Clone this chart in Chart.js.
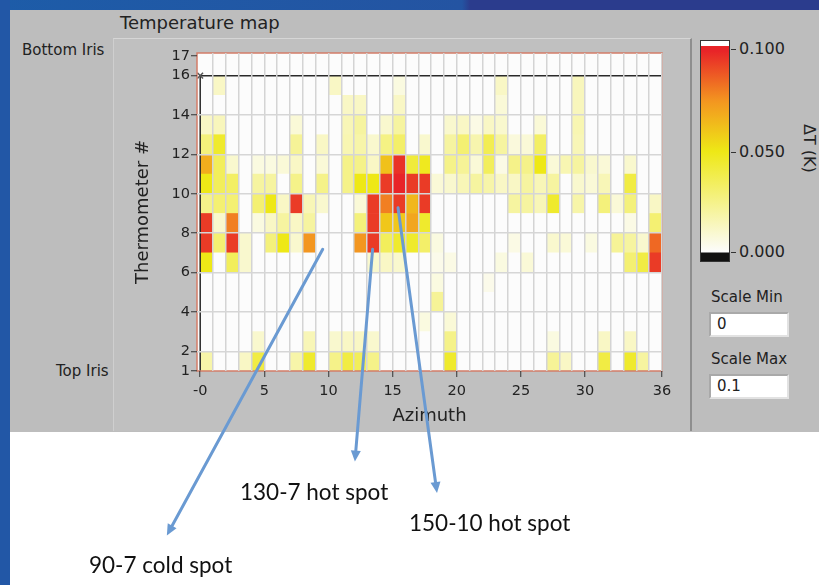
<!DOCTYPE html>
<html>
<head>
<meta charset="utf-8">
<script src="https://cdn.jsdelivr.net/npm/chart.js@4.4.1/dist/chart.umd.min.js"></script>
<style>
  html, body { margin: 0; padding: 0; }
  body { width: 819px; height: 585px; position: relative; overflow: hidden; background: #fff;
         font-family: "DejaVu Sans", sans-serif; color: #222; }
  .abs { position: absolute; }
  #blueTop { left: 0; top: 0; width: 819px; height: 10px;
             background: linear-gradient(90deg, #1d5ca8 0, #2454a2 462px, #2b3c8d 470px, #2b3c8d 100%); }
  #blueLeft { left: 0; top: 0; width: 10px; height: 585px; background: #2257a6; }
  #panel { left: 10px; top: 10px; width: 809px; height: 422px; background: #bdbdbd; }
  #frame { left: 113px; top: 38px; width: 576px; height: 392px; background: #c0c0c0;
           border-top: 1px solid #d6d6d6; border-left: 1px solid #cfcfcf; border-right: 2px solid #8e8e8e; }
  #title { left: 120px; top: 12px; font-size: 18px; }
  .side { font-size: 15px; }
  #cbar { left: 700px; top: 40px; width: 28px; height: 220px; border: 1px solid #333; }
  .cbTick { font-size: 16px; }
  .cbTick::before { content: ""; display: inline-block; width: 5px; height: 1px; background: #333;
                    vertical-align: middle; margin-right: 3px; }
  #cbTitle { left: 819px; top: 124px; font-size: 16px; transform: rotate(90deg); transform-origin: left top; white-space: nowrap; }
  .lbl { font-size: 15px; }
  .box { width: 70px; height: 21px; background: #fff; border: 2px solid #a9a9a9; border-right-color: #e2e2e2;
         border-bottom-color: #e2e2e2; font-size: 15px; line-height: 21px; padding-left: 6px; box-sizing: content-box; }
  .note { font-family: "Lato", sans-serif; font-size: 22.5px; line-height: 27px; color: #111; white-space: nowrap; }
</style>
</head>
<body>
<div id="blueTop" class="abs"></div>
<div id="blueLeft" class="abs"></div>
<div id="panel" class="abs"></div>
<div id="frame" class="abs"></div>
<div id="title" class="abs">Temperature map</div>
<div class="abs side" style="left:22px; top:41px;">Bottom Iris</div>
<div class="abs side" style="left:56px; top:362px;">Top Iris</div>

<div id="cbar" class="abs"></div>
<div class="abs cbTick" style="left:731px; top:39px;">0.100</div>
<div class="abs cbTick" style="left:731px; top:142px;">0.050</div>
<div class="abs cbTick" style="left:731px; top:242px;">0.000</div>
<div id="cbTitle" class="abs">ΔT (K)</div>

<div class="abs lbl" style="left:711px; top:288px;">Scale Min</div>
<div class="abs box" style="left:709px; top:312px;">0</div>
<div class="abs lbl" style="left:711px; top:350px;">Scale Max</div>
<div class="abs box" style="left:709px; top:374px;">0.1</div>

<div class="abs" style="left:0; top:0; width:819px; height:585px;">
  <canvas id="map" width="819" height="585"></canvas>
</div>

<div class="abs note" style="left:240px; top:478px;">130-7 hot spot</div>
<div class="abs note" style="left:409px; top:509px;">150-10 hot spot</div>
<div class="abs note" style="left:89px; top:551px;">90-7 cold spot</div>

<script>
// azimuth index of each column, thermometer number of each row
const azimuth = [0, 1, 2, 3, 4, 5, 6, 7, 8, 9, 10, 11, 12, 13, 14, 15, 16, 17,
  18, 19, 20, 21, 22, 23, 24, 25, 26, 27, 28, 29, 30, 31, 32, 33, 34, 35];
const thermometers = [1, 2, 3, 4, 5, 6, 7, 8, 9, 10, 11, 12, 13, 14, 15, 16];

// ΔT in mK, one list per thermometer, 36 azimuth values each
const row01 = [18,0,0,12,40,0,0,18,45,0,25,40,35,25,0,0,0,0,0,45,0,0,0,0,0,0,0,22,12,0,0,40,0,45,20,0];
const row02 = [0,0,0,0,10,0,0,0,15,0,10,12,12,10,0,0,0,0,0,25,0,0,0,0,0,0,0,6,0,0,0,12,0,12,0,0];
const row03 = [0,0,0,0,0,0,0,0,0,0,0,0,0,0,0,0,0,6,0,8,0,0,0,0,0,0,0,0,0,0,0,0,0,0,0,0];
const row04 = [0,0,0,0,0,0,0,0,0,0,0,0,0,0,0,0,0,0,22,0,0,0,0,0,0,0,0,0,0,0,0,0,0,0,0,0];
const row05 = [0,0,0,0,0,0,0,0,0,0,0,0,0,0,0,0,0,0,6,0,0,0,4,0,0,0,0,0,0,0,0,0,0,0,0,0];
const row06 = [50,0,35,10,0,0,0,0,0,0,0,0,0,10,12,10,0,0,4,5,0,0,0,6,0,8,0,0,0,0,0,0,0,30,40,95];
const row07 = [95,30,95,10,0,28,50,10,75,0,0,0,75,95,35,45,45,32,6,0,0,0,0,0,5,0,0,10,8,0,6,0,22,20,10,85];
const row08 = [95,10,80,0,6,12,20,12,20,0,0,0,28,95,60,60,70,45,0,0,0,0,0,0,0,0,0,0,0,0,0,0,0,5,0,30];
const row09 = [25,30,30,0,30,50,12,95,15,10,0,0,8,95,80,95,65,95,0,0,0,0,0,0,20,20,15,45,0,18,0,28,8,28,0,12];
const row10 = [50,35,33,0,20,20,0,25,0,25,0,25,50,50,95,100,95,95,8,10,15,20,18,12,12,20,15,20,0,10,8,15,0,40,0,0];
const row11 = [68,35,10,0,6,6,8,12,0,8,0,25,25,12,62,97,42,48,0,25,22,8,35,5,25,25,50,8,16,20,10,8,0,10,0,0];
const row12 = [28,45,0,0,0,0,0,22,0,12,0,16,18,10,26,32,0,10,0,20,30,17,37,20,7,8,33,0,0,15,0,0,0,0,0,0];
const row13 = [12,14,0,0,0,0,0,8,0,0,0,15,20,0,10,20,0,0,0,10,12,5,12,10,0,0,8,0,0,16,0,0,0,0,0,0];
const row14 = [0,0,0,0,0,0,0,0,0,0,0,12,12,0,0,12,0,0,0,0,0,0,0,8,0,0,0,0,0,14,0,0,0,0,0,0];
const row15 = [0,12,0,0,0,0,0,0,0,0,12,0,0,0,0,6,0,0,0,0,0,0,0,12,0,0,0,0,0,14,0,0,0,0,0,0];
const row16 = [0,0,0,0,0,0,0,0,0,0,0,0,0,0,0,0,0,0,0,0,0,0,0,0,0,0,0,0,0,0,0,0,0,0,0,0];
const deltaT = [row01, row02, row03, row04, row05, row06, row07, row08,
  row09, row10, row11, row12, row13, row14, row15, row16];

const xTickValues = [0, 5, 10, 15, 20, 25, 30, 36];
const xTickLabels = ["-0", "5", "10", "15", "20", "25", "30", "36"];
const yTickValues = [1, 2, 4, 6, 8, 10, 12, 14, 16, 17];

// cursor at azimuth 0 / thermometer 16
const cursor = [{ x: 36, y: 16 }, { x: 0, y: 16 }, { x: 0, y: 1 }];

// annotation arrows, [azimuth, thermometer] of tail and head
const arrowFrom = [[9.55, 7.18], [13.44, 7.18], [15.42, 9.29]];
const arrowTo = [[-2.6, -7.35], [12.06, -3.6], [18.46, -5.2]];

// colour scale (K)
const scaleMin = 0;
const scaleMax = 0.1;
const colorStops = [
  [0, [252, 252, 252]],
  [0.05, [238, 232, 22]],
  [0.075, [243, 150, 32]],
  [0.1, [232, 36, 40]],
];

function heatColor(v) {
  if (v <= colorStops[0][0]) return `rgb(${colorStops[0][1].join(",")})`;
  for (let i = 1; i < colorStops.length; i++) {
    const [v1, c1] = colorStops[i];
    const [v0, c0] = colorStops[i - 1];
    if (v <= v1) {
      const t = (v - v0) / (v1 - v0);
      const c = c0.map((a, k) => Math.round(a + (c1[k] - a) * t));
      return `rgb(${c.join(",")})`;
    }
  }
  return `rgb(${colorStops[colorStops.length - 1][1].join(",")})`;
}

// colour bar next to the map: 0.1 sits 10px below its top, 0 sits 211px below
(function () {
  const top = 10, bottom = 211;
  const parts = ["#fff 0px", "#fff 5px", `${heatColor(scaleMax)} 5px`];
  colorStops.slice().reverse().forEach(([v]) => {
    const px = top + (scaleMax - v) / (scaleMax - scaleMin) * (bottom - top);
    parts.push(`${heatColor(v)} ${px}px`);
  });
  parts.push("#111 " + (bottom + 1) + "px", "#111 220px");
  document.getElementById("cbar").style.background = "linear-gradient(180deg," + parts.join(",") + ")";
})();

const cellSets = thermometers.map((t, r) => ({
  type: "bar",
  data: azimuth.map((a, i) => ({ x: a + 0.5, y: [t, t + 1], v: deltaT[r][i] / 1000 })),
  backgroundColor: (ctx) => heatColor(ctx.raw ? ctx.raw.v : 0),
  borderWidth: 0,
  grouped: false,
  barPercentage: 1,
  categoryPercentage: 1,
}));

const cursorSet = {
  type: "line",
  data: cursor,
  borderColor: "#2a2a2a",
  borderWidth: 1.5,
  pointStyle: "crossRot",
  pointRadius: (ctx) => (ctx.dataIndex === 1 ? 4 : 0),
  pointBorderColor: "#555",
  pointBorderWidth: 1.5,
  order: -1,
  clip: false,
};

const plotFrame = {
  id: "plotFrame",
  afterDatasetsDraw(chart) {
    const { ctx, chartArea: a } = chart;
    ctx.save();
    ctx.strokeStyle = "#d27c68";
    ctx.lineWidth = 1.5;
    ctx.strokeRect(a.left, a.top, a.right - a.left, a.bottom - a.top);
    ctx.restore();
  },
};

const arrowPlugin = {
  id: "arrows",
  afterDraw(chart) {
    const { ctx, scales } = chart;
    ctx.save();
    ctx.strokeStyle = "#6a9ad2";
    ctx.fillStyle = "#6a9ad2";
    ctx.lineWidth = 3;
    ctx.lineCap = "round";
    arrowFrom.forEach((f, i) => {
      const x0 = scales.x.getPixelForValue(f[0]);
      const y0 = scales.y.getPixelForValue(f[1]);
      const x1 = scales.x.getPixelForValue(arrowTo[i][0]);
      const y1 = scales.y.getPixelForValue(arrowTo[i][1]);
      const ang = Math.atan2(y1 - y0, x1 - x0);
      const len = 11, half = 5;
      const bx = x1 - len * Math.cos(ang), by = y1 - len * Math.sin(ang);
      ctx.beginPath();
      ctx.moveTo(x0, y0);
      ctx.lineTo(bx, by);
      ctx.stroke();
      ctx.beginPath();
      ctx.moveTo(x1, y1);
      ctx.lineTo(bx + half * Math.sin(ang), by - half * Math.cos(ang));
      ctx.lineTo(bx - half * Math.sin(ang), by + half * Math.cos(ang));
      ctx.closePath();
      ctx.fill();
    });
    ctx.restore();
  },
};

const plotBg = {
  id: "plotBg",
  beforeDraw(chart) {
    const { ctx, chartArea: a } = chart;
    ctx.save();
    ctx.fillStyle = "#fcfcfc";
    ctx.fillRect(a.left, a.top, a.right - a.left, a.bottom - a.top);
    ctx.restore();
  },
};

const tickFont = { family: "DejaVu Sans", size: 14.5 };
const titleFont = { family: "DejaVu Sans", size: 18 };

new Chart(document.getElementById("map"), {
  type: "bar",
  data: { datasets: [cursorSet, ...cellSets] },
  options: {
    responsive: false,
    animation: false,
    devicePixelRatio: 1,
    layout: { padding: { left: 133, right: 157, top: 53, bottom: 158 } },
    plugins: { legend: { display: false }, tooltip: { enabled: false } },
    scales: {
      x: {
        type: "linear",
        min: -0.25,
        max: 36,
        offset: false,
        afterBuildTicks: (s) => { s.ticks = azimuth.concat([36]).map((v) => ({ value: v })); },
        afterFit: (s) => { s.height = 56; },
        border: { display: false },
        grid: {
          z: 1,
          offset: false,
          lineWidth: 1.5,
          color: (c) => (c.tick && c.tick.value === 0 ? "transparent" : "#d4d4d4"),
          tickColor: (c) => (c.tick && xTickValues.includes(c.tick.value) ? "#333" : "transparent"),
          tickLength: 6,
          tickWidth: 1,
        },
        ticks: {
          autoSkip: false,
          maxRotation: 0,
          color: "#222",
          font: tickFont,
          padding: 6,
          callback: (v) => {
            const k = xTickValues.indexOf(v);
            return k >= 0 ? xTickLabels[k] : "";
          },
        },
        title: { display: true, text: "Azimuth", color: "#222", font: titleFont, padding: { top: 0, bottom: 0 } },
      },
      y: {
        type: "linear",
        min: 1,
        max: 17.15,
        offset: false,
        afterBuildTicks: (s) => { s.ticks = yTickValues.concat([3, 5, 7, 9, 11, 13, 15]).map((v) => ({ value: v })); },
        afterFit: (s) => { s.width = 64; },
        border: { display: false },
        grid: {
          z: 1,
          lineWidth: 1.5,
          color: (c) => (c.tick && c.tick.value % 2 === 0 && c.tick.value < 16 ? "#d6d6d6" : "transparent"),
          tickColor: (c) => (c.tick && yTickValues.includes(c.tick.value) ? "#333" : "transparent"),
          tickLength: 6,
          tickWidth: 1,
        },
        ticks: {
          autoSkip: false,
          color: "#222",
          font: tickFont,
          padding: 1,
          callback: (v) => (yTickValues.includes(v) ? String(v) : ""),
        },
        title: { display: true, text: "Thermometer #", color: "#222", font: titleFont, padding: { top: 0, bottom: 0 } },
      },
    },
  },
  plugins: [plotBg, plotFrame, arrowPlugin],
});
</script>
</body>
</html>
